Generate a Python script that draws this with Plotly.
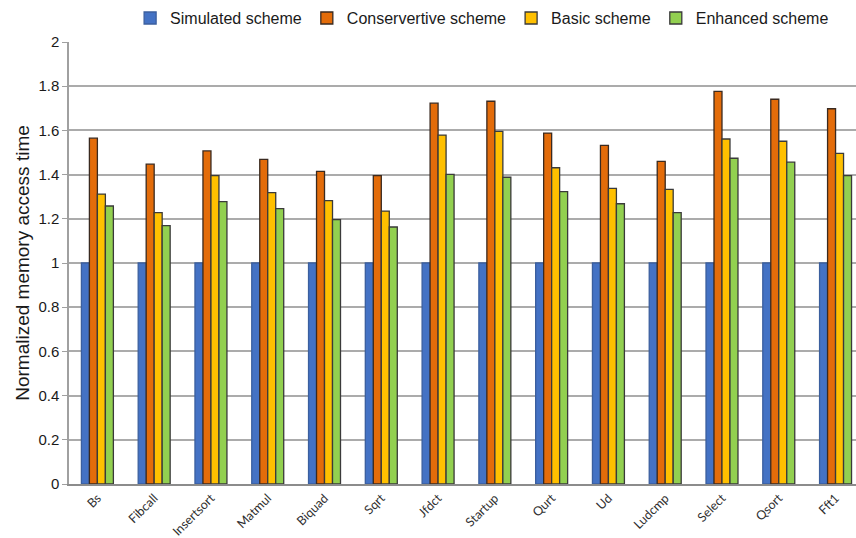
import plotly.graph_objects as go

categories = ["Bs", "Fibcall", "Insertsort", "Matmul", "Biquad", "Sqrt", "Jfdct",
              "Startup", "Qurt", "Ud", "Ludcmp", "Select", "Qsort", "Fft1"]

simulated = [1.0] * 14
conservertive = [1.565, 1.447, 1.507, 1.469, 1.415, 1.395, 1.723,
                 1.732, 1.588, 1.532, 1.460, 1.777, 1.741, 1.698]
basic = [1.312, 1.228, 1.395, 1.318, 1.282, 1.235, 1.579,
         1.596, 1.431, 1.338, 1.333, 1.561, 1.551, 1.496]
enhanced = [1.258, 1.169, 1.278, 1.246, 1.196, 1.163, 1.401,
            1.388, 1.323, 1.268, 1.228, 1.474, 1.456, 1.395]

series_names = ["Simulated scheme", "Conservertive scheme", "Basic scheme", "Enhanced scheme"]
series_values = [simulated, conservertive, basic, enhanced]
fill_colors = ["#4472C4", "#E36C0A", "#FFC000", "#92D050"]
edge_colors = ["#3b5f9e", "#3a2a20", "#3a3a3a", "#3a3a3a"]

y_ticks = [0, 0.2, 0.4, 0.6, 0.8, 1, 1.2, 1.4, 1.6, 1.8, 2]
y_tick_text = ["0", "0.2", "0.4", "0.6", "0.8", "1", "1.2", "1.4", "1.6", "1.8", "2"]

fig = go.Figure()
for name, vals, fc, ec in zip(series_names, series_values, fill_colors, edge_colors):
    fig.add_trace(go.Bar(
        x=list(range(len(categories))), y=vals, name=name,
        marker=dict(color=fc, line=dict(color=ec, width=1.3)),
    ))

fig.update_layout(
    width=856, height=538,
    margin=dict(l=69, r=0, t=42, b=54, autoexpand=False),
    paper_bgcolor="white", plot_bgcolor="white",
    barmode="group", bargap=0.437, bargroupgap=0,
    font=dict(family="Liberation Sans, Arial, sans-serif", color="#1a1a1a"),
    showlegend=True,
    legend=dict(
        orientation="h", x=0.152, xanchor="left", y=0.998, yanchor="top",
        yref="container", xref="container",
        font=dict(size=16, color="#1a1a1a"), itemwidth=30,
        bgcolor="rgba(0,0,0,0)", traceorder="normal",
    ),
    xaxis=dict(
        range=[-0.5, 13.36], automargin=False,
        tickmode="array", tickvals=list(range(len(categories))), ticktext=categories,
        tickangle=-45, tickfont=dict(family="Lato, Open Sans, sans-serif", size=12.5, color="#303030"),
        showgrid=False, showline=True, linecolor="#8c8c8c", linewidth=2,
        ticks="", zeroline=False,
    ),
    yaxis=dict(
        range=[0, 2], automargin=False,
        tickmode="array", tickvals=y_ticks, ticktext=y_tick_text,
        tickfont=dict(size=15, color="#1a1a1a"),
        showgrid=True, gridcolor="#ababab", gridwidth=2,
        showline=True, linecolor="#a0a0a0", linewidth=1.5,
        ticks="outside", ticklen=5, tickcolor="#a0a0a0",
        zeroline=False,
        title=dict(text="Normalized memory access time", font=dict(size=19, color="#1a1a1a"), standoff=4),
    ),
)

fig.write_html("out.html")
